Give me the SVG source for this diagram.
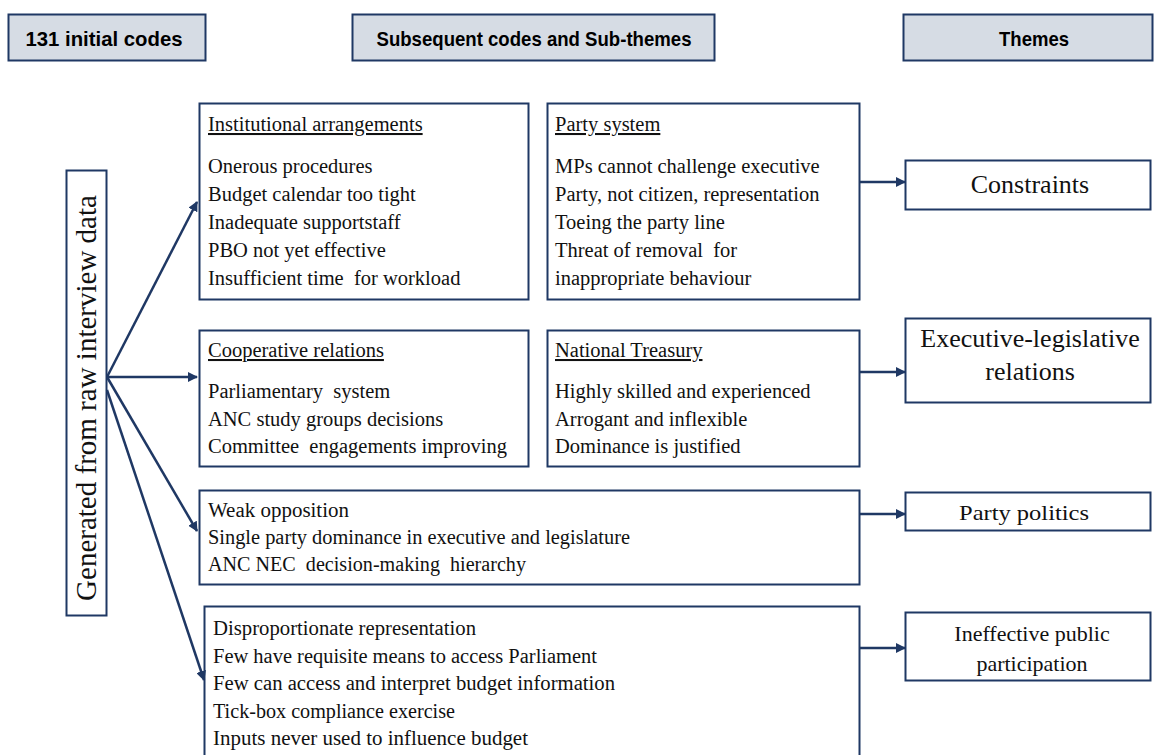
<svg xmlns="http://www.w3.org/2000/svg" width="1155" height="755" viewBox="0 0 1155 755">
<style>
.hdr{fill:#D6DCE4;stroke:#1F3864;stroke-width:2}
.box{fill:#fff;stroke:#1F3864;stroke-width:2}
.ht{font-family:"Liberation Sans",Arial,sans-serif;font-weight:bold;font-size:21px;fill:#000;text-anchor:middle}
.t{font-family:"Liberation Serif","Times New Roman",serif;font-size:20.5px;fill:#111}
.u{text-decoration:underline}
.th{font-family:"Liberation Serif","Times New Roman",serif;font-size:26px;fill:#111;text-anchor:middle}
.ts{font-family:"Liberation Serif","Times New Roman",serif;font-size:22px;fill:#111;text-anchor:middle}
.c{stroke:#1F3864;stroke-width:2.5;fill:none;marker-end:url(#ah)}
</style>
<defs>
<marker id="ah" viewBox="0 0 10 10" refX="9" refY="5" markerWidth="4" markerHeight="4" orient="auto" markerUnits="strokeWidth">
<path d="M0,0 L10,5 L0,10 z" fill="#1F3864"/>
</marker>
</defs>
<rect width="1155" height="755" fill="#fff"/>

<g id="hdr-initial">
<rect class="hdr" x="8.5" y="14.5" width="197" height="46"/>
<text class="ht" x="104" y="46" textLength="157" lengthAdjust="spacingAndGlyphs">131 initial codes</text>
</g>
<g id="hdr-sub">
<rect class="hdr" x="352.5" y="14.5" width="362" height="46"/>
<text class="ht" x="534" y="46" textLength="315" lengthAdjust="spacingAndGlyphs">Subsequent codes and Sub-themes</text>
</g>
<g id="hdr-themes">
<rect class="hdr" x="903.5" y="14.5" width="249" height="46"/>
<text class="ht" x="1034" y="46" textLength="70" lengthAdjust="spacingAndGlyphs">Themes</text>
</g>

<g id="raw">
<rect class="box" x="66.5" y="170.5" width="40" height="445"/>
<text class="t" style="font-size:29px" text-anchor="middle" transform="translate(96,398) rotate(-90)">Generated from raw interview data</text>
</g>

<g id="institutional">
<rect class="box" x="199.5" y="103.5" width="329" height="196"/>
<text class="t u" x="208" y="131">Institutional arrangements</text>
<text class="t" x="208" y="173">Onerous procedures</text>
<text class="t" x="208" y="201">Budget calendar too tight</text>
<text class="t" x="208" y="229">Inadequate supportstaff</text>
<text class="t" x="208" y="257">PBO not yet effective</text>
<text class="t" x="208" y="285" xml:space="preserve">Insufficient time  for workload</text>
</g>

<g id="party-system">
<rect class="box" x="547.5" y="103.5" width="312" height="196"/>
<text class="t u" x="555" y="131">Party system</text>
<text class="t" x="555" y="173">MPs cannot challenge executive</text>
<text class="t" x="555" y="201">Party, not citizen, representation</text>
<text class="t" x="555" y="229">Toeing the party line</text>
<text class="t" x="555" y="257" xml:space="preserve">Threat of removal  for</text>
<text class="t" x="555" y="285">inappropriate behaviour</text>
</g>

<g id="cooperative">
<rect class="box" x="199.5" y="330.5" width="329" height="136"/>
<text class="t u" x="208" y="357">Cooperative relations</text>
<text class="t" x="208" y="398" xml:space="preserve">Parliamentary  system</text>
<text class="t" x="208" y="426">ANC study groups decisions</text>
<text class="t" x="208" y="453" xml:space="preserve">Committee  engagements improving</text>
</g>

<g id="treasury">
<rect class="box" x="547.5" y="330.5" width="312" height="136"/>
<text class="t u" x="555" y="357">National Treasury</text>
<text class="t" x="555" y="398">Highly skilled and experienced</text>
<text class="t" x="555" y="426">Arrogant and inflexible</text>
<text class="t" x="555" y="453">Dominance is justified</text>
</g>

<g id="weak">
<rect class="box" x="199.5" y="490.5" width="660" height="94"/>
<text class="t" x="208" y="517" textLength="141" lengthAdjust="spacingAndGlyphs">Weak opposition</text>
<text class="t" x="208" y="544" textLength="422" lengthAdjust="spacingAndGlyphs">Single party dominance in executive and legislature</text>
<text class="t" x="208" y="571" textLength="318" lengthAdjust="spacingAndGlyphs" xml:space="preserve">ANC NEC  decision-making  hierarchy</text>
</g>

<g id="participation">
<rect class="box" x="204.5" y="606.5" width="655" height="160"/>
<text class="t" x="213" y="635" textLength="263" lengthAdjust="spacingAndGlyphs">Disproportionate representation</text>
<text class="t" x="213" y="663" textLength="384" lengthAdjust="spacingAndGlyphs">Few have requisite means to access Parliament</text>
<text class="t" x="213" y="690" textLength="402" lengthAdjust="spacingAndGlyphs">Few can access and interpret budget information</text>
<text class="t" x="213" y="718" textLength="242" lengthAdjust="spacingAndGlyphs">Tick-box compliance exercise</text>
<text class="t" x="213" y="745" textLength="315" lengthAdjust="spacingAndGlyphs">Inputs never used to influence budget</text>
</g>

<g id="constraints">
<rect class="box" x="905.5" y="160.5" width="245" height="49"/>
<text class="th" x="1030" y="193">Constraints</text>
</g>
<g id="exec-leg">
<rect class="box" x="905.5" y="318.5" width="245" height="84"/>
<text class="th" x="1030" y="347">Executive-legislative</text>
<text class="th" x="1030" y="380">relations</text>
</g>
<g id="party-politics">
<rect class="box" x="905.5" y="492.5" width="245" height="38"/>
<text class="ts" x="1024" y="520" textLength="130" lengthAdjust="spacingAndGlyphs">Party politics</text>
</g>
<g id="public-participation">
<rect class="box" x="905.5" y="612.5" width="245" height="68"/>
<text class="ts" x="1032" y="641">Ineffective public</text>
<text class="ts" x="1032" y="671">participation</text>
</g>

<g id="connectors">
<line class="c" x1="107" y1="377" x2="197" y2="202"/>
<line class="c" x1="107" y1="377" x2="197" y2="377"/>
<line class="c" x1="107" y1="377" x2="197" y2="531"/>
<line class="c" x1="107" y1="390" x2="204" y2="680"/>
<line class="c" x1="860" y1="182" x2="905" y2="182"/>
<line class="c" x1="860" y1="372" x2="905" y2="372"/>
<line class="c" x1="860" y1="514" x2="905" y2="514"/>
<line class="c" x1="860" y1="648" x2="905" y2="648"/>
</g>
</svg>
